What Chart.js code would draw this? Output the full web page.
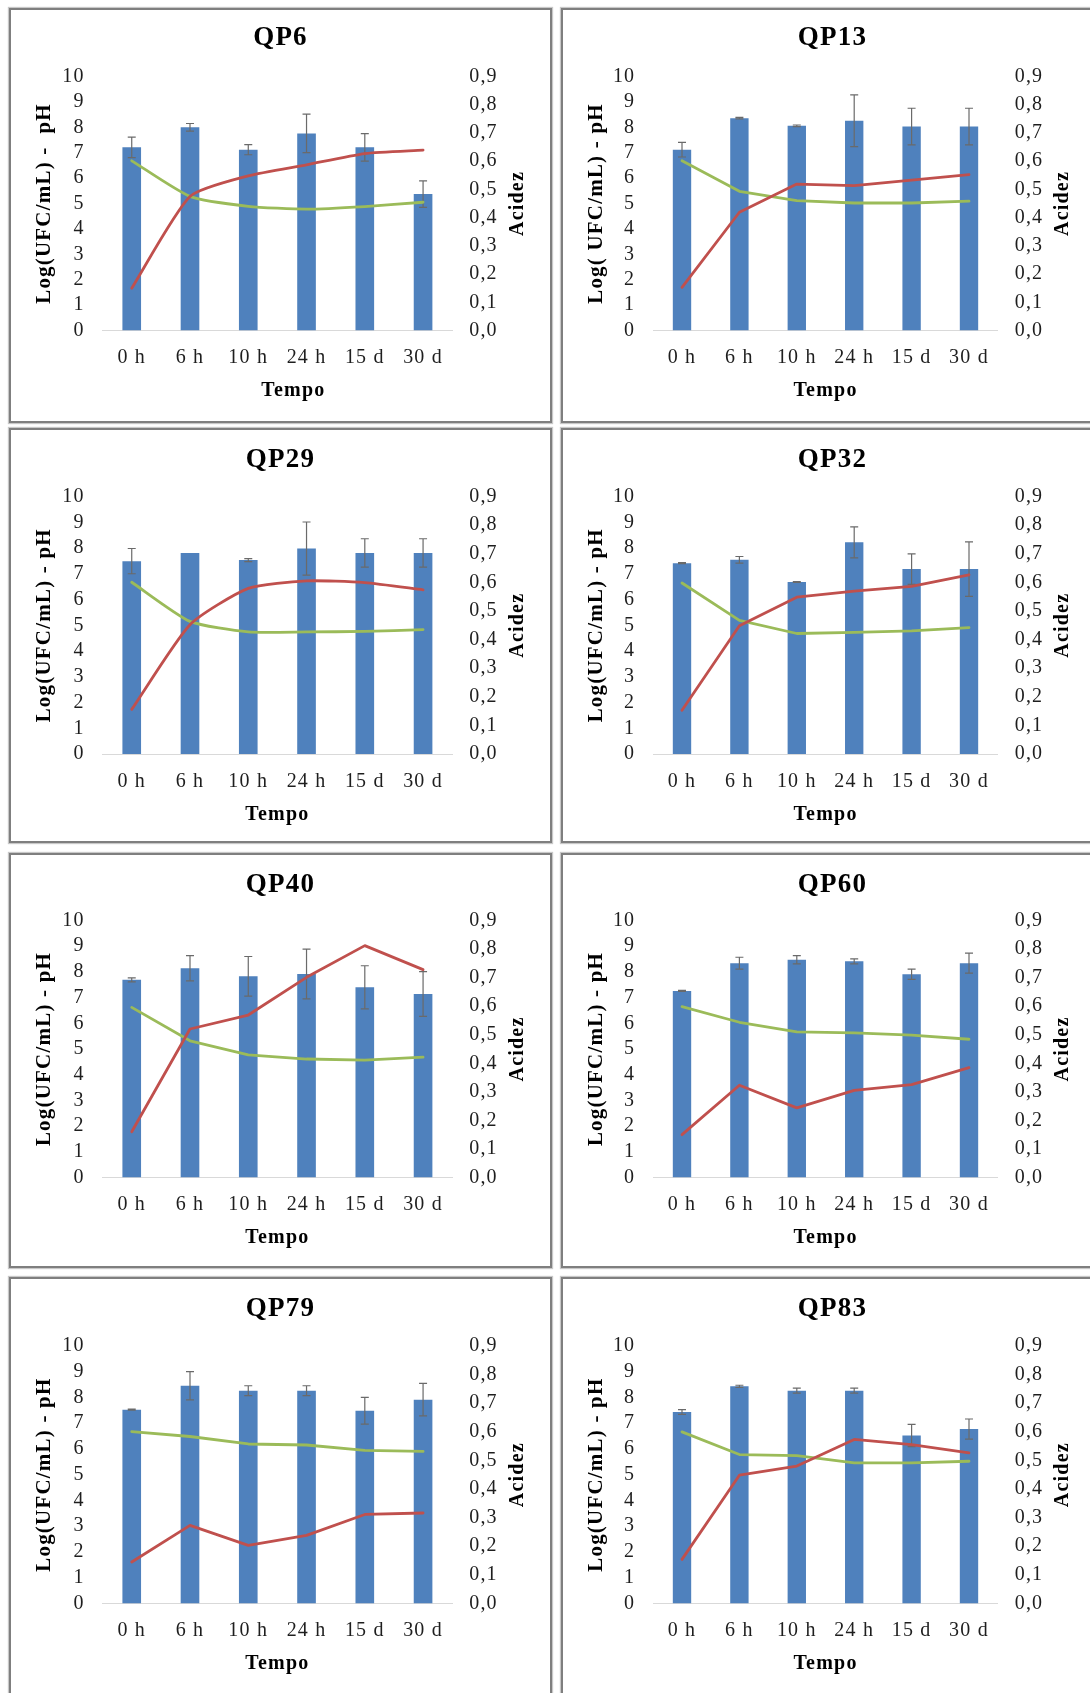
<!DOCTYPE html>
<html><head><meta charset="utf-8">
<script src="https://cdn.jsdelivr.net/npm/chart.js@4.4.1/dist/chart.umd.min.js"></script>
<style>
html,body{margin:0;padding:0;background:#fff;}
body{width:1090px;height:1693px;overflow:hidden;position:relative;}
.panel{position:absolute;box-sizing:border-box;border:2px solid #7f7f7f;box-shadow:0 0 1px 1px #c8c8c8;background:#fff;overflow:hidden;}
.panel canvas{position:absolute;left:0;top:0;}
</style></head><body>
<script>
// ---- data ----
const categories = ['0 h', '6 h', '10 h', '24 h', '15 d', '30 d'];
const panelTitles = ['QP6', 'QP13', 'QP29', 'QP32', 'QP40', 'QP60', 'QP79', 'QP83'];

const qp6Ufc = [7.21, 8.00, 7.12, 7.76, 7.21, 5.37];
const qp6Err = [0.40, 0.15, 0.20, 0.76, 0.54, 0.52];
const qp6PH = [6.68, 5.28, 4.89, 4.78, 4.88, 5.05];
const qp6Acidez = [0.150, 0.475, 0.548, 0.587, 0.627, 0.639];

const qp13Ufc = [7.12, 8.36, 8.06, 8.26, 8.03, 8.03];
const qp13Err = [0.29, 0.03, 0.03, 1.02, 0.72, 0.72];
const qp13PH = [6.68, 5.48, 5.11, 5.02, 5.02, 5.09];
const qp13Acidez = [0.153, 0.419, 0.519, 0.513, 0.533, 0.552];

const qp29Ufc = [7.49, 7.81, 7.53, 7.98, 7.81, 7.81];
const qp29Err = [0.49, 0.00, 0.06, 1.03, 0.55, 0.55];
const qp29PH = [6.67, 5.15, 4.74, 4.74, 4.76, 4.83];
const qp29Acidez = [0.156, 0.452, 0.579, 0.605, 0.599, 0.574];

const qp32Ufc = [7.41, 7.54, 6.68, 8.22, 7.18, 7.18];
const qp32Err = [0.02, 0.13, 0.02, 0.60, 0.59, 1.06];
const qp32PH = [6.64, 5.19, 4.68, 4.72, 4.78, 4.91];
const qp32Acidez = [0.153, 0.448, 0.548, 0.569, 0.586, 0.626];

const qp40Ufc = [7.69, 8.14, 7.83, 7.92, 7.40, 7.14];
const qp40Err = [0.08, 0.49, 0.77, 0.97, 0.84, 0.87];
const qp40PH = [6.62, 5.32, 4.77, 4.61, 4.57, 4.68];
const qp40Acidez = [0.160, 0.520, 0.569, 0.701, 0.812, 0.728];

const qp60Ufc = [7.26, 8.34, 8.47, 8.41, 7.91, 8.34];
const qp60Err = [0.02, 0.23, 0.16, 0.10, 0.20, 0.39];
const qp60PH = [6.65, 6.04, 5.67, 5.63, 5.54, 5.38];
const qp60Acidez = [0.150, 0.323, 0.244, 0.305, 0.325, 0.385];

const qp79Ufc = [7.52, 8.45, 8.26, 8.26, 7.48, 7.91];
const qp79Err = [0.02, 0.55, 0.19, 0.19, 0.52, 0.63];
const qp79PH = [6.67, 6.48, 6.19, 6.15, 5.94, 5.90];
const qp79Acidez = [0.145, 0.273, 0.203, 0.238, 0.311, 0.316];

const qp83Ufc = [7.43, 8.43, 8.26, 8.26, 6.52, 6.77];
const qp83Err = [0.09, 0.04, 0.10, 0.10, 0.43, 0.39];
const qp83PH = [6.66, 5.78, 5.74, 5.46, 5.46, 5.52];
const qp83Acidez = [0.154, 0.448, 0.480, 0.573, 0.555, 0.526];

const leftTitles = ['Log(UFC/mL) -  pH', 'Log( UFC/mL) - pH', 'Log(UFC/mL) - pH', 'Log(UFC/mL) - pH',
                    'Log(UFC/mL) - pH', 'Log(UFC/mL) - pH', 'Log(UFC/mL) - pH', 'Log(UFC/mL) - pH'];
const rightTitle = 'Acidez';
const xTitle = 'Tempo';

const ufcSets = [qp6Ufc, qp13Ufc, qp29Ufc, qp32Ufc, qp40Ufc, qp60Ufc, qp79Ufc, qp83Ufc];
const errSets = [qp6Err, qp13Err, qp29Err, qp32Err, qp40Err, qp60Err, qp79Err, qp83Err];
const phSets = [qp6PH, qp13PH, qp29PH, qp32PH, qp40PH, qp60PH, qp79PH, qp83PH];
const acidSets = [qp6Acidez, qp13Acidez, qp29Acidez, qp32Acidez, qp40Acidez, qp60Acidez, qp79Acidez, qp83Acidez];

// ---- layout ----
const FONT = '"Liberation Serif", "Times New Roman", serif';
Chart.defaults.font.family = FONT;
const PANEL_W = 543, PANEL_H = 415, BORDER = 2;
const CW = PANEL_W - 2 * BORDER, CH = PANEL_H - 2 * BORDER;
const colLeft = [9, 561];
const rowTop = [8, 428, 853, 1277];
const rowTitleY = [30.0, 32.0, 32.2, 32.4];
const rowChartTop = [68.5, 68.5, 67.5, 68.8];
const rowChartBottom = [322.5, 326, 324.5, 326.5];
const colChartLeft = [93.6, 92.3];
const colChartRight = [443.2, 436.7];
const tempoShift = [16, 0, 0, 0, 0, 0, 0, 0];
const tensions = [0.2, 0, 0.2, 0, 0, 0, 0, 0];

const spacingPlugin = {
  id: 'spacing',
  beforeUpdate(c) { c.ctx.letterSpacing = '1.2px'; },
  beforeDraw(c) { c.ctx.letterSpacing = '1.2px'; }
};

panelTitles.forEach((title, k) => {
  const col = k % 2, row = Math.floor(k / 2);
  const div = document.createElement('div');
  div.className = 'panel';
  div.style.left = colLeft[col] + 'px';
  div.style.top = rowTop[row] + 'px';
  div.style.width = PANEL_W + 'px';
  div.style.height = (row === 3 ? PANEL_H + 12 : PANEL_H) + 'px';
  const cv = document.createElement('canvas');
  cv.width = CW; cv.height = CH;
  cv.style.width = CW + 'px'; cv.style.height = CH + 'px';
  div.appendChild(cv);
  document.body.appendChild(div);

  const chartTop = rowChartTop[row] - BORDER;
  const chartBottom = rowChartBottom[row] - BORDER;
  const chartLeft = colChartLeft[col] - BORDER;
  const chartRight = colChartRight[col] - BORDER;
  const titleCenter = rowTitleY[row] - BORDER;
  const titleLH = 27 * 1.2;
  const tPadTop = titleCenter - titleLH / 2;
  const tPadBottom = chartTop - tPadTop - titleLH;
  const errs = errSets[k];

  const errorBars = {
    id: 'errbars' + k,
    afterDatasetDraw(chart, args) {
      if (args.index !== 0) return;
      const ys = chart.scales.y;
      const vals = chart.data.datasets[0].data;
      const ctx = chart.ctx;
      ctx.save();
      ctx.strokeStyle = '#6a6a6a';
      ctx.lineWidth = 1.2;
      args.meta.data.forEach((bar, i) => {
        const e = errs[i];
        if (!e) return;
        const x = bar.x;
        const yt = ys.getPixelForValue(vals[i] + e);
        const yb = ys.getPixelForValue(vals[i] - e);
        ctx.beginPath();
        ctx.moveTo(x, yt); ctx.lineTo(x, yb);
        ctx.moveTo(x - 4, yt); ctx.lineTo(x + 4, yt);
        ctx.moveTo(x - 4, yb); ctx.lineTo(x + 4, yb);
        ctx.stroke();
      });
      ctx.restore();
    }
  };

  const axisTitles = {
    id: 'axtitles' + k,
    afterDraw(chart) {
      const a = chart.chartArea;
      const ctx = chart.ctx;
      ctx.save();
      ctx.letterSpacing = '1.2px';
      ctx.fillStyle = '#000';
      ctx.font = 'bold 20px ' + FONT;
      ctx.textAlign = 'center';
      ctx.textBaseline = 'middle';
      ctx.fillText(xTitle, (a.left + a.right) / 2 + tempoShift[k], a.bottom + 60.5);
      ctx.translate(a.right + 65.5, (a.top + a.bottom) / 2);
      ctx.rotate(-Math.PI / 2);
      ctx.fillText(rightTitle, 0, 0);
      ctx.restore();
    }
  };

  new Chart(cv, {
    type: 'bar',
    data: {
      labels: categories,
      datasets: [
        { type: 'bar', data: ufcSets[k], backgroundColor: '#4F81BD', yAxisID: 'y', order: 3,
          barPercentage: 0.32, categoryPercentage: 1 },
        { type: 'line', data: phSets[k], borderColor: '#9BBB59', borderWidth: 2.8, pointRadius: 0,
          yAxisID: 'y', order: 2, tension: tensions[k], borderCapStyle: 'round', borderJoinStyle: 'round' },
        { type: 'line', data: acidSets[k], borderColor: '#C0504D', borderWidth: 2.8, pointRadius: 0,
          yAxisID: 'y2', order: 1, tension: tensions[k], borderCapStyle: 'round', borderJoinStyle: 'round' }
      ]
    },
    options: {
      responsive: false,
      animation: false,
      events: [],
      layout: { padding: 0 },
      plugins: {
        legend: { display: false },
        tooltip: { enabled: false },
        title: { display: true, text: title, color: '#000',
                 font: { size: 27, weight: 'bold', family: FONT },
                 padding: { top: tPadTop, bottom: tPadBottom } }
      },
      scales: {
        x: {
          offset: true,
          grid: { display: false, drawTicks: false },
          border: { display: true, color: '#d9d9d9', width: 1 },
          ticks: { color: '#1e1e1e', font: { size: 20, family: FONT }, padding: 15.5,
                   maxRotation: 0, minRotation: 0, autoSkip: false },
          afterFit(s) { s.height = CH - chartBottom; }
        },
        y: {
          position: 'left', min: 0, max: 10,
          grid: { display: false, drawTicks: false },
          border: { display: false },
          ticks: { stepSize: 1, autoSkip: false, color: '#1e1e1e',
                   font: { size: 20, family: FONT }, padding: 18 },
          title: { display: true, text: leftTitles[k], color: '#000',
                   font: { size: 21, weight: 'bold', family: FONT },
                   padding: { top: 20.9, bottom: 0 } },
          afterFit(s) { s.width = chartLeft; }
        },
        y2: {
          position: 'right', min: 0, max: 0.9,
          grid: { display: false, drawTicks: false, drawOnChartArea: false },
          border: { display: false },
          ticks: { stepSize: 0.1, autoSkip: false, color: '#1e1e1e',
                   font: { size: 20, family: FONT }, padding: 17,
                   callback: v => Number(v).toFixed(1).replace('.', ',') },
          afterFit(s) { s.width = CW - chartRight; }
        }
      }
    },
    plugins: [spacingPlugin, errorBars, axisTitles]
  });
});
</script>
</body></html>
